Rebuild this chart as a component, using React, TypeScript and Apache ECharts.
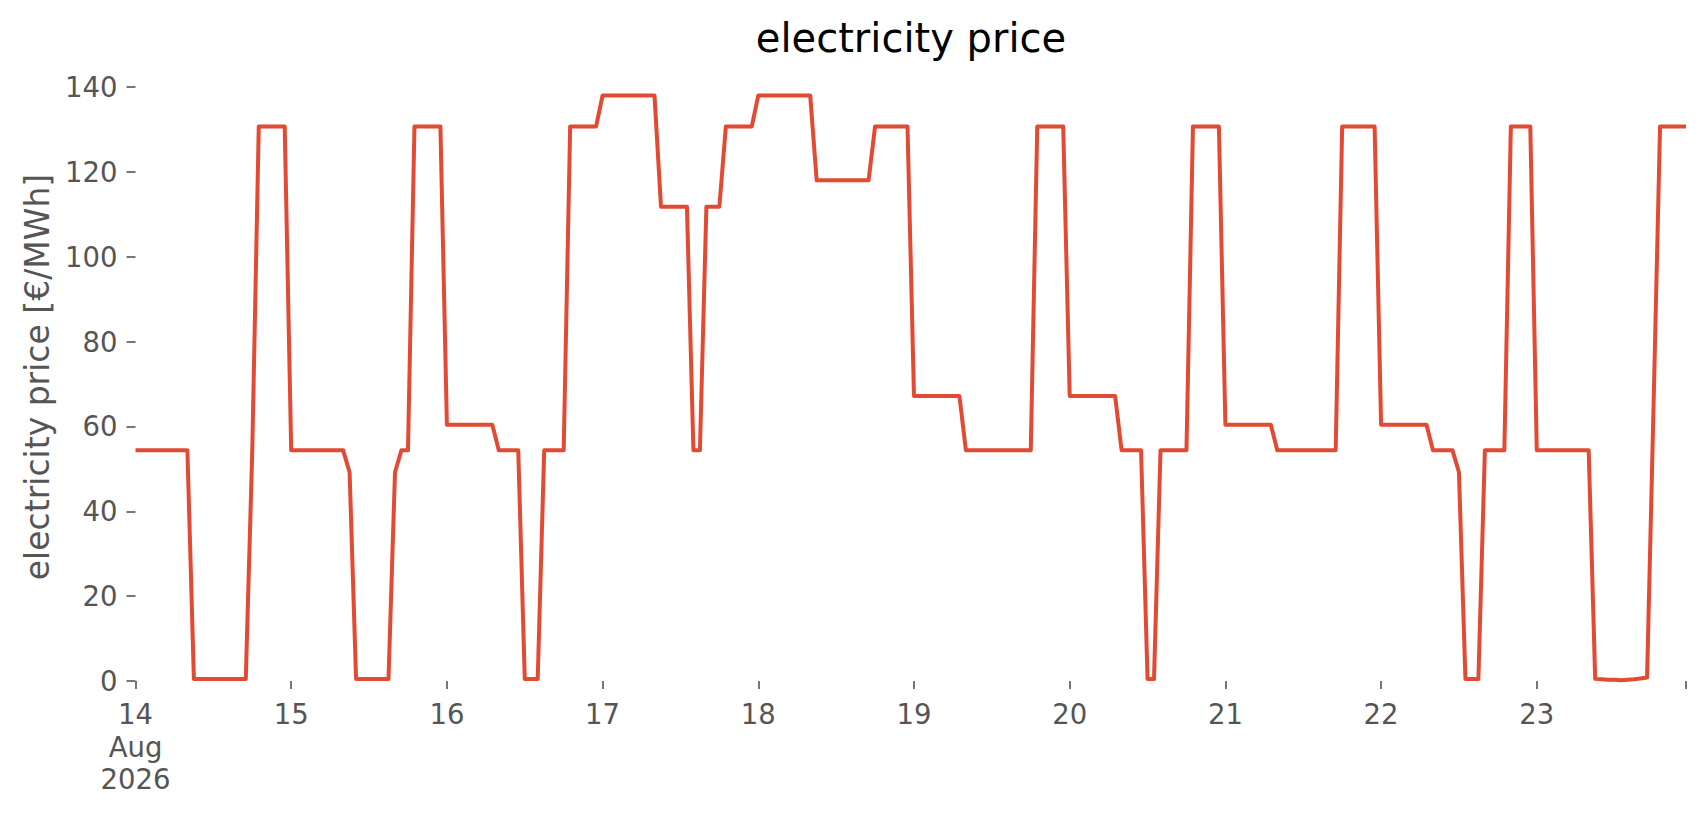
import React, { useEffect, useRef } from "react";
import * as echarts from "echarts";

// Hourly day-ahead prices, 14 Aug 2026 00:00 → 23 Aug 2026 23:00 (€/MWh)
const startDate = "2026-08-14";
const dayTickLabels = ["14\nAug\n2026", "15", "16", "17", "18", "19", "20", "21", "22", "23"];

const aug14 = [54.4, 54.4, 54.4, 54.4, 54.4, 54.4, 54.4, 54.4, 54.4, 0.5, 0.5, 0.5, 0.5, 0.5, 0.5, 0.5, 0.5, 0.5, 54.4, 130.7, 130.7, 130.7, 130.7, 130.7];
const aug15 = [54.4, 54.4, 54.4, 54.4, 54.4, 54.4, 54.4, 54.4, 54.4, 49.2, 0.5, 0.5, 0.5, 0.5, 0.5, 0.5, 49.2, 54.4, 54.4, 130.7, 130.7, 130.7, 130.7, 130.7];
const aug16 = [60.4, 60.4, 60.4, 60.4, 60.4, 60.4, 60.4, 60.4, 54.4, 54.4, 54.4, 54.4, 0.5, 0.5, 0.5, 54.4, 54.4, 54.4, 54.4, 130.7, 130.7, 130.7, 130.7, 130.7];
const aug17 = [138, 138, 138, 138, 138, 138, 138, 138, 138, 111.8, 111.8, 111.8, 111.8, 111.8, 54.4, 54.4, 111.8, 111.8, 111.8, 130.7, 130.7, 130.7, 130.7, 130.7];
const aug18 = [138, 138, 138, 138, 138, 138, 138, 138, 138, 118, 118, 118, 118, 118, 118, 118, 118, 118, 130.7, 130.7, 130.7, 130.7, 130.7, 130.7];
const aug19 = [67.2, 67.2, 67.2, 67.2, 67.2, 67.2, 67.2, 67.2, 54.4, 54.4, 54.4, 54.4, 54.4, 54.4, 54.4, 54.4, 54.4, 54.4, 54.4, 130.7, 130.7, 130.7, 130.7, 130.7];
const aug20 = [67.2, 67.2, 67.2, 67.2, 67.2, 67.2, 67.2, 67.2, 54.4, 54.4, 54.4, 54.4, 0.5, 0.5, 54.4, 54.4, 54.4, 54.4, 54.4, 130.7, 130.7, 130.7, 130.7, 130.7];
const aug21 = [60.4, 60.4, 60.4, 60.4, 60.4, 60.4, 60.4, 60.4, 54.4, 54.4, 54.4, 54.4, 54.4, 54.4, 54.4, 54.4, 54.4, 54.4, 130.7, 130.7, 130.7, 130.7, 130.7, 130.7];
const aug22 = [60.4, 60.4, 60.4, 60.4, 60.4, 60.4, 60.4, 60.4, 54.4, 54.4, 54.4, 54.4, 49.2, 0.5, 0.5, 0.5, 54.4, 54.4, 54.4, 54.4, 130.7, 130.7, 130.7, 130.7];
const aug23 = [54.4, 54.4, 54.4, 54.4, 54.4, 54.4, 54.4, 54.4, 54.4, 0.5, 0.4, 0.3, 0.3, 0.2, 0.3, 0.4, 0.6, 0.8, 65, 130.7, 130.7, 130.7, 130.7, 130.7];

const hourlyPrices = [...aug14, ...aug15, ...aug16, ...aug17, ...aug18, ...aug19, ...aug20, ...aug21, ...aug22, ...aug23];

const yTicks = { min: 0, max: 140, step: 20 };

const FONT = "DejaVu Sans";
const GREY = "#555555";

export default function App() {
  const ref = useRef<HTMLDivElement>(null);

  useEffect(() => {
    document.body.style.margin = "0";
    if (!ref.current) return;
    const chart = echarts.init(ref.current, null, { renderer: "svg" });
    const lastHour = hourlyPrices.length - 1;
    const data = hourlyPrices.map((v, i) => [i, v]);

    chart.setOption({
      animation: false,
      backgroundColor: "#ffffff",
      title: {
        text: "electricity price",
        left: 911,
        top: 18,
        textAlign: "center",
        padding: 0,
        textStyle: { fontFamily: FONT, fontSize: 40, fontWeight: "normal", color: "#000000" },
      },
      grid: { left: 135.5, right: 20, top: 87, bottom: 134, containLabel: false },
      xAxis: {
        type: "value",
        min: 0,
        max: lastHour,
        interval: 24,
        offset: 4,
        axisLine: { show: false },
        splitLine: { show: false },
        axisTick: { show: true, length: 8, lineStyle: { color: GREY, width: 1.6 } },
        axisLabel: {
          margin: 13,
          color: GREY,
          fontFamily: FONT,
          fontSize: 27.5,
          lineHeight: 32.5,
          formatter: (v: number) => {
            if (v % 24 !== 0) return "";
            return dayTickLabels[v / 24] ?? "";
          },
        },
      },
      yAxis: {
        type: "value",
        min: yTicks.min,
        max: yTicks.max,
        interval: yTicks.step,
        axisLine: { show: false },
        splitLine: { show: false },
        axisTick: { show: true, length: 9, lineStyle: { color: GREY, width: 1.6 } },
        axisLabel: {
          margin: 18,
          color: GREY,
          fontFamily: FONT,
          fontSize: 27.5,
          padding: [5, 0, 0, 0],
        },
        name: "electricity price [€/MWh]",
        nameLocation: "middle",
        nameRotate: 90,
        nameGap: 81,
        nameTextStyle: {
          fontFamily: FONT,
          fontSize: 33,
          lineHeight: 33,
          color: GREY,
          padding: [0, 0, 0, 14],
        },
      },
      series: [
        {
          name: "price " + startDate,
          type: "line",
          data,
          symbol: "none",
          showSymbol: false,
          clip: false,
          lineStyle: { color: "#E24A33", width: 4, join: "round", cap: "butt" },
        },
      ],
    });

    return () => chart.dispose();
  }, []);

  return <div ref={ref} style={{ width: "1706px", height: "815px" }} />;
}
